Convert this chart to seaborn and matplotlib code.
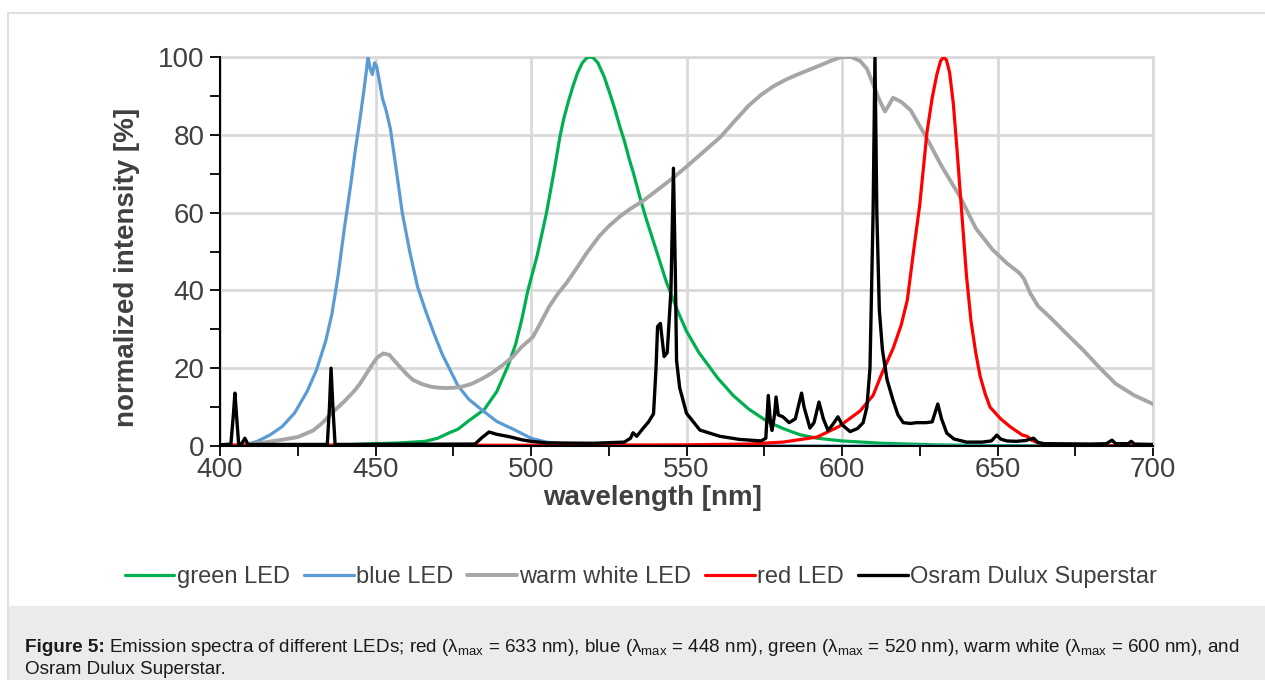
import matplotlib
matplotlib.use("Agg")
import matplotlib.pyplot as plt
import seaborn as sns
import pandas as pd
from matplotlib.patches import Rectangle
from matplotlib.lines import Line2D

# ---------------- data ----------------
green_wl = [400, 430, 440, 450, 458, 466, 470, 474, 476.5, 480, 485, 489, 492.6, 495, 497, 499,
            502, 505, 507.5, 509.3, 510.5, 512, 513.5, 515, 516.5, 518, 519, 520, 521.5, 523.5,
            525.4, 527, 528.6, 530, 531.5, 533, 535, 537, 539, 541, 543.6, 547, 550, 554, 560,
            565, 570, 576, 581, 586.5, 592, 600, 613, 630, 650, 700]
green_int = [0, 0.1, 0.3, 0.6, 0.8, 1.2, 2, 3.5, 4.3, 6.5, 9.4, 14, 20.6, 26, 32.4, 40,
             49, 60, 71, 79.5, 84, 88.5, 92.5, 96, 98.5, 99.8, 100, 99.8, 98.5, 95,
             90.5, 86.5, 82, 78.5, 74, 70, 64, 58.5, 53.5, 48.5, 42, 35, 29.5, 24, 17.5,
             13, 9.5, 6.3, 4.5, 2.9, 2, 1.3, 0.7, 0.3, 0.1, 0]

blue_wl = [400, 405, 408, 412, 416, 420, 424, 428, 431, 434, 436, 438, 440, 442, 443.5, 445,
           446.2, 447, 447.6, 448.3, 449, 449.7, 450.4, 451.2, 452.2, 453.5, 454.8, 456.5, 458.6,
           461, 463.5, 466, 469, 471.5, 473.7, 476.5, 480, 484, 489, 494.6, 500, 505, 512, 520,
           540, 600, 700]
blue_int = [0, 0, 0.3, 1.2, 2.8, 5, 8.5, 14, 19.5, 27, 34, 44, 56, 67, 76, 84,
            91, 96, 100, 97, 95.5, 98.5, 97.5, 94, 89.5, 86, 81.5, 72, 60,
            50, 41, 35, 28.5, 23.5, 20, 15.5, 12, 9.4, 6.3, 4.2, 2, 1, 0.4, 0.2,
            0.1, 0, 0]

white_wl = [400, 405, 410, 415, 420, 425, 430, 433, 436, 440, 443, 445, 447, 449, 450.5, 452.5,
            454.5, 456, 457.8, 460, 462, 465, 467.5, 470, 472.8, 475.5, 478, 481, 484.5, 487.5,
            490.9, 494, 497, 500.6, 503, 505.8, 508.5, 511.5, 514.5, 517.9, 522, 525, 528.6, 532,
            536, 539.3, 545, 550, 556, 561, 566, 570, 574, 578, 582, 586, 590, 594, 597, 600,
            603, 605.8, 608, 610, 612, 613.8, 615, 616.4, 619, 622, 627, 632, 638, 643, 648.5,
            653, 657, 658.5, 660.5, 663, 667, 672, 677.5, 683, 688, 694, 700]
white_int = [0, 0.2, 0.5, 1, 1.6, 2.3, 4, 6, 8.5, 11.5, 14, 16, 18.5, 21, 22.7, 23.8,
             23.4, 22, 20.4, 18.5, 17, 15.9, 15.3, 15, 14.9, 15, 15.3, 16, 17.4, 18.8,
             20.8, 22.8, 25.5, 28, 31.5, 35.8, 39, 42, 45.5, 49.6, 54, 56.5, 59, 61,
             63, 65, 68.5, 71.8, 76, 79.5, 84, 87.5, 90.3, 92.5, 94.2, 95.6, 96.9, 98.2, 99.2, 100,
             100, 99, 97, 93, 89, 86, 87.5, 89.5, 88.5, 86.4, 79.5, 72, 64, 56, 50.4,
             47, 44.5, 43, 39.3, 36, 33, 29, 24.7, 20, 16, 13, 10.8]

red_wl = [400, 450, 500, 550, 570, 581, 592, 599, 605.8, 610, 613, 616.4, 619, 621, 623, 625,
          627.3, 629, 630.5, 631.7, 632.7, 633.6, 634.6, 635.8, 637, 638.5, 640, 641.5, 643,
          644.4, 646, 647.6, 651, 654, 658, 659.5, 661, 663, 668, 680, 700]
red_int = [0.2, 0.2, 0.2, 0.3, 0.5, 1, 2.3, 5, 9, 13, 19, 25, 31, 37.5, 50, 62,
           80.5, 89.5, 95.5, 99, 100, 99.2, 96, 88, 76, 60, 44, 32, 24,
           18, 13.5, 10, 7, 5, 2.8, 2.5, 1.5, 0.8, 0.3, 0.1, 0]

osram_wl = [400, 403.5, 404.3, 404.8, 405.3, 406, 407, 408, 409, 434.5, 435.2, 435.7, 436.3, 437,
            482, 484, 486.5, 489, 493, 497, 500, 505, 520, 530, 532, 532.8, 534, 536, 537.8,
            539.4, 540.2, 540.7, 541.6, 542.8, 543.8, 545, 545.8, 546.4, 546.8, 547.8, 550,
            554.3, 560.7, 567, 574, 575.5, 576.3, 577, 577.5, 578.3, 578.8, 579.5, 581, 583,
            585, 586.5, 587, 587.8, 589.7, 591, 592.6, 594, 595.5, 597, 598.7, 600, 602.6, 605,
            606.8, 608, 609, 610, 610.6, 611.2, 612, 613, 614.5, 616.4, 618, 619.7, 622, 624,
            627, 629, 630.8, 632, 633.7, 636, 640, 645, 648, 649.8, 651, 653, 656, 659, 661.6,
            663, 665, 680, 685, 686.8, 688, 692, 693, 694, 700]
osram_int = [0.3, 0.5, 8, 13.6, 8, 0.5, 0.6, 2, 0.4, 0.4, 10, 20, 10, 0.4,
             0.5, 2, 3.6, 3, 2.4, 1.6, 1.2, 0.8, 0.7, 1, 2, 3.4, 2.5, 4.5, 6.2,
             8.3, 20, 30.7, 31.5, 23, 24, 40, 71.4, 45, 22, 15, 8.4,
             4.1, 2.5, 1.7, 1.3, 2, 13, 6, 4, 8, 12.6, 8, 7.5, 6,
             7, 12, 13.6, 10, 4.6, 6, 11.3, 7, 4, 5.5, 7.5, 5.5, 3.7, 4.5,
             6, 10, 20, 60, 100, 60, 35, 24.7, 17, 11.8, 8, 6, 5.8, 6,
             6, 6.2, 10.8, 7, 3.3, 1.8, 1, 1, 1.3, 2.8, 1.8, 1.3, 1.2, 1.4, 2,
             0.9, 0.6, 0.5, 0.6, 1.5, 0.6, 0.6, 1.2, 0.5, 0.4]

series_names = ["green LED", "blue LED", "warm white LED", "red LED", "Osram Dulux Superstar"]
series_wl = [green_wl, blue_wl, white_wl, red_wl, osram_wl]
series_int = [green_int, blue_int, white_int, red_int, osram_int]
series_colors = ["#00b050", "#5b9bd5", "#a6a6a6", "#ff0000", "#000000"]
series_lw = [2.3, 2.3, 2.8, 2.3, 2.4]

x_ticks = [400, 450, 500, 550, 600, 650, 700]
y_ticks = [0, 20, 40, 60, 80, 100]

# ---------------- style ----------------
sns.set_theme(style="white")
plt.rcParams["font.family"] = ["Liberation Sans", "DejaVu Sans"]
plt.rcParams["mathtext.fontset"] = "custom"
plt.rcParams["mathtext.rm"] = "Liberation Sans"
plt.rcParams["mathtext.it"] = "Liberation Sans:italic"
plt.rcParams["mathtext.bf"] = "Liberation Sans:bold"

W, H = 1265, 680
fig = plt.figure(figsize=(W / 100, H / 100), dpi=100)
fig.patch.set_facecolor("white")

# frame / caption background
fig.add_artist(Line2D([8 / W, 1], [1 - 13 / H, 1 - 13 / H], color="#e0e0e0", lw=1.5,
                      transform=fig.transFigure))
fig.add_artist(Line2D([8 / W, 8 / W], [0, 1 - 13 / H], color="#e0e0e0", lw=1.5,
                      transform=fig.transFigure))
fig.add_artist(Rectangle((8 / W, 0), 1 - 8 / W, (H - 606) / H, transform=fig.transFigure,
                         facecolor="#ebebeb", edgecolor="none", zorder=0))

ax = fig.add_axes([220 / W, 1 - 446 / H, (1153 - 220) / W, (446 - 57) / H])
ax.set_facecolor("white")

for name, wl, inten, col, lw in zip(series_names, series_wl, series_int, series_colors, series_lw):
    df = pd.DataFrame({"wavelength": wl, "intensity": inten})
    sns.lineplot(data=df, x="wavelength", y="intensity", ax=ax, color=col, lw=lw,
                 estimator=None, sort=False, label=name, zorder=3)

ax.set_xlim(400, 700)
ax.set_ylim(0, 100)
ax.set_xticks(x_ticks)
ax.set_xticks([425, 475, 525, 575, 625, 675], minor=True)
ax.set_yticks(y_ticks)
ax.set_yticks([10, 30, 50, 70, 90], minor=True)
ax.set_xticklabels([str(v) for v in x_ticks])
ax.set_yticklabels([str(v) for v in y_ticks])

ax.grid(True, which="major", color="#d9d9d9", lw=2, zorder=0)
ax.set_axisbelow(True)
for s in ["top", "right"]:
    ax.spines[s].set_color("#d9d9d9")
    ax.spines[s].set_linewidth(2)
for s in ["left", "bottom"]:
    ax.spines[s].set_color("black")
    ax.spines[s].set_linewidth(1.5)
    ax.spines[s].set_zorder(4)

ax.tick_params(axis="both", which="both", direction="out", length=7, width=1.3,
               color="black", bottom=True, left=True, labelsize=20, labelcolor="#404040", pad=4)
ax.tick_params(axis="x", which="both", pad=1)

ax.set_xlabel("wavelength [nm]", fontsize=20, fontweight="bold", color="#404040")
ax.set_ylabel("normalized intensity [%]", fontsize=20, fontweight="bold", color="#404040")
ax.xaxis.set_label_coords((653 - 220) / (1153 - 220), (446 - 485) / (446 - 57))
ax.xaxis.label.set_va("top")
ax.yaxis.set_label_coords((140 - 220) / (1153 - 220), (446 - 267) / (446 - 57))

handles, labels = ax.get_legend_handles_labels()
ax.get_legend().remove()
leg = fig.legend(handles, labels, loc="center", bbox_to_anchor=(641 / W, 1 - 577 / H), ncol=5,
                 frameon=False, fontsize=17, handlelength=2.1, handletextpad=0.1,
                 columnspacing=0.6)
for t in leg.get_texts():
    t.set_color("#404040")

# caption
fig.canvas.draw()
renderer = fig.canvas.get_renderer()
cap_y1 = 1 - 647 / H
cap_y2 = 1 - 669 / H
tb = fig.text(25 / W, cap_y1, "Figure 5:", fontsize=13.6, fontweight="bold", color="#1a1a1a",
              va="center", ha="left")
bb = tb.get_window_extent(renderer=renderer)
rest = ("Emission spectra of different LEDs; red (λ$_{\\mathrm{max}}$ = 633 nm), "
        "blue (λ$_{\\mathrm{max}}$ = 448 nm), green (λ$_{\\mathrm{max}}$ = 520 nm), "
        "warm white (λ$_{\\mathrm{max}}$ = 600 nm), and")
fig.text((bb.x1 + 4) / W, cap_y1, rest, fontsize=13.6, color="#1a1a1a", va="center", ha="left")
fig.text(25 / W, cap_y2, "Osram Dulux Superstar.", fontsize=13.6, color="#1a1a1a",
         va="center", ha="left")

fig.savefig("out.png", dpi=100)
